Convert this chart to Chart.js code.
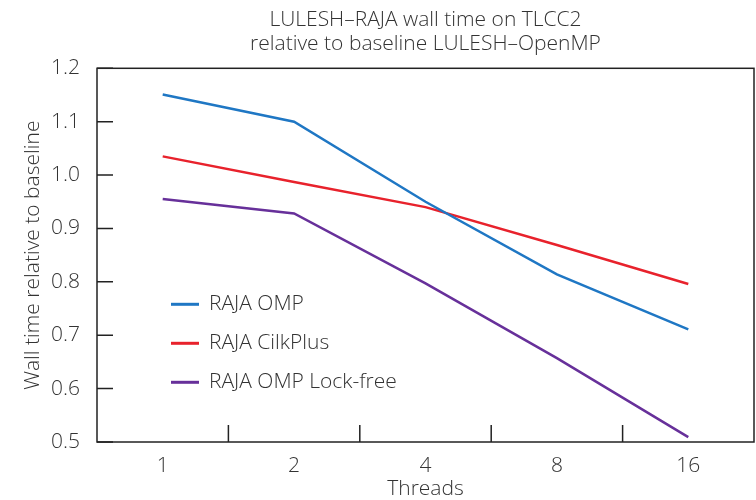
<!DOCTYPE html>
<html>
<head>
<meta charset="utf-8">
<script src="https://cdn.jsdelivr.net/npm/chart.js@4"></script>
<style>
  html, body { margin: 0; padding: 0; background: #fff; }
  #wrap { width: 756px; height: 500px; }
</style>
</head>
<body>
<div id="wrap"><canvas id="wallChart"></canvas></div>
<script>
// threads on the x axis
const threads = ['1', '2', '4', '8', '16'];

// wall time relative to the LULESH-OpenMP baseline
const rajaOmp = [1.151, 1.100, 0.950, 0.814, 0.711];
const rajaCilk = [1.035, 0.987, 0.940, 0.869, 0.796];
const rajaLockFree = [0.955, 0.928, 0.797, 0.657, 0.509];

const seriesNames = ['RAJA OMP', 'RAJA CilkPlus', 'RAJA OMP Lock-free'];
const seriesColors = ['#1f77c4', '#e8222c', '#67309a'];

const yTicks = [0.5, 0.6, 0.7, 0.8, 0.9, 1.0, 1.1, 1.2];

const textColor = '#333';
const fontFamily = '"Open Sans", "DejaVu Sans", sans-serif';
const textFont = { family: fontFamily, size: 21, weight: '300' };

// ticks pointing into the plot, frame and legend inside the plot
const framePlugin = {
  id: 'frame',
  afterDraw(chart) {
    const ctx = chart.ctx;
    const area = chart.chartArea;
    const xs = chart.scales.x;
    const ys = chart.scales.y;
    ctx.save();
    ctx.strokeStyle = '#222';
    ctx.lineWidth = 1.5;
    ctx.strokeRect(area.left, area.top, area.right - area.left, area.bottom - area.top);

    ctx.beginPath();
    yTicks.forEach(v => {
      const y = ys.getPixelForValue(v);
      ctx.moveTo(area.left, y);
      ctx.lineTo(area.left + 16, y);
    });
    for (let i = 1; i < threads.length; i++) {
      const x = (xs.getPixelForValue(i - 1) + xs.getPixelForValue(i)) / 2;
      ctx.moveTo(x, area.bottom);
      ctx.lineTo(x, area.bottom - 17);
    }
    ctx.stroke();

    // legend
    ctx.font = '300 21px ' + fontFamily;
    ctx.textBaseline = 'middle';
    chart.data.datasets.forEach((ds, i) => {
      const y = area.top + 236 + i * 39;
      const x = area.left + 74;
      ctx.strokeStyle = ds.borderColor;
      ctx.lineWidth = 3;
      ctx.beginPath();
      ctx.moveTo(x, y);
      ctx.lineTo(x + 28, y);
      ctx.stroke();
      ctx.fillStyle = textColor;
      ctx.fillText(ds.label, x + 38, y);
    });
    ctx.restore();
  }
};

const datasets = [rajaOmp, rajaCilk, rajaLockFree].map((values, i) => ({
  label: seriesNames[i],
  data: values,
  borderColor: seriesColors[i],
  backgroundColor: seriesColors[i],
  borderWidth: 2.5,
  pointRadius: 0,
  tension: 0,
  fill: false
}));

new Chart(document.getElementById('wallChart'), {
  type: 'line',
  data: { labels: threads, datasets: datasets },
  options: {
    responsive: true,
    maintainAspectRatio: false,
    animation: false,
    layout: { padding: { left: 0, right: 2, top: 0, bottom: 0 } },
    plugins: {
      legend: { display: false },
      tooltip: { enabled: false },
      title: {
        display: true,
        fullSize: false,
        text: ['LULESH\u2013RAJA wall time on TLCC2', 'relative to baseline LULESH\u2013OpenMP'],
        color: textColor,
        font: { family: fontFamily, size: 21, weight: '300', lineHeight: 1.15 },
        padding: { top: 8, bottom: 12 }
      }
    },
    scales: {
      x: {
        type: 'category',
        offset: true,
        grid: { display: false },
        border: { display: false },
        ticks: { color: textColor, font: textFont, padding: 3 },
        title: {
          display: true,
          text: 'Threads',
          color: textColor,
          font: { family: fontFamily, size: 21, weight: '300', lineHeight: 1 },
          padding: { top: 0, bottom: 0 }
        },
        afterFit(scale) { scale.height = 58; }
      },
      y: {
        min: 0.5,
        max: 1.2,
        grid: { display: false },
        border: { display: false },
        afterBuildTicks(scale) { scale.ticks = yTicks.map(v => ({ value: v })); },
        ticks: {
          color: textColor,
          font: textFont,
          padding: 9,
          callback: v => Number(v).toFixed(1)
        },
        title: {
          display: true,
          text: 'Wall time relative to baseline',
          color: textColor,
          font: textFont,
          padding: { top: 20, bottom: 0 }
        },
        afterFit(scale) { scale.width = 97; }
      }
    }
  },
  plugins: [framePlugin]
});
</script>
</body>
</html>
